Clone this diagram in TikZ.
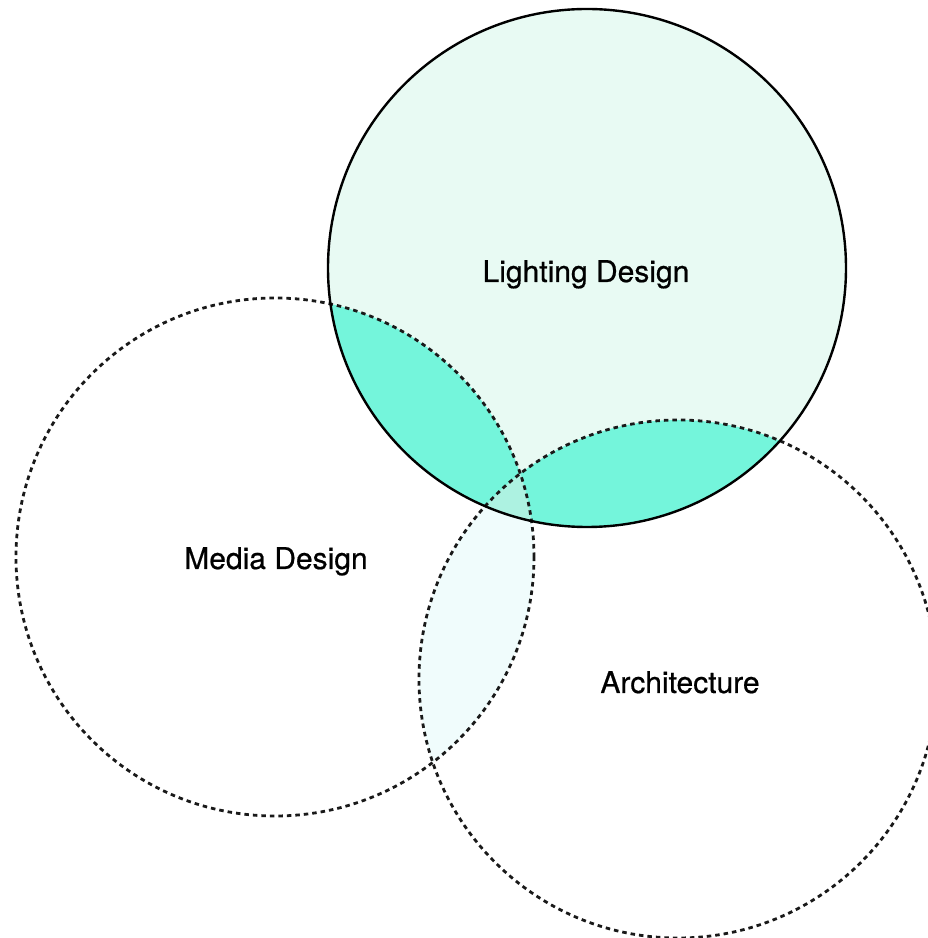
\documentclass[tikz,border=0pt]{standalone}
\usepackage{fontspec}
\setmainfont{TeX Gyre Heros}
\newfontfamily\labelfont[FakeBold=0.6]{TeX Gyre Heros}
\definecolor{lightmint}{HTML}{E8FAF3}
\definecolor{brightteal}{HTML}{74F5DB}
\definecolor{midteal}{HTML}{ADF2E1}
\definecolor{palecyan}{HTML}{F0FCFC}
\begin{document}
\begin{tikzpicture}[x=1pt, y=1pt,
    label/.style={font=\labelfont\fontsize{30}{36}\selectfont, anchor=base},
    dashring/.style={line width=2.8pt, dash pattern=on 4.5pt off 4pt, black!90}]
    \useasboundingbox (0,0) rectangle (928,938);
    \clip (0,0) rectangle (928,938);
    \def\rad{259pt}
    \coordinate (lighting) at (587,670);
    \coordinate (media) at (275,381);
    \coordinate (arch) at (678,259);
    % shaded areas
    \begin{scope}
    \clip (media) circle (\rad);
    \fill[palecyan] (arch) circle (\rad);
    \end{scope}
    \fill[lightmint] (lighting) circle (\rad);
    \begin{scope}
    \clip (lighting) circle (\rad);
    \foreach \c in {media, arch}
    \fill[brightteal] (\c) circle (\rad);
    \clip (media) circle (\rad);
    \fill[midteal] (arch) circle (\rad);
    \end{scope}
    % outlines
    \foreach \c in {media, arch}
    \draw[dashring] (\c) circle (\rad);
    \draw[line width=2.4pt] (lighting) circle (\rad);
    \node[label] (lightingtext) at (586,656) {Lighting Design};
    \node[label] (mediatext) at (276,369) {Media Design};
    \node[label] (archtext) at (680,245) {Architecture};
\end{tikzpicture}
\end{document}
